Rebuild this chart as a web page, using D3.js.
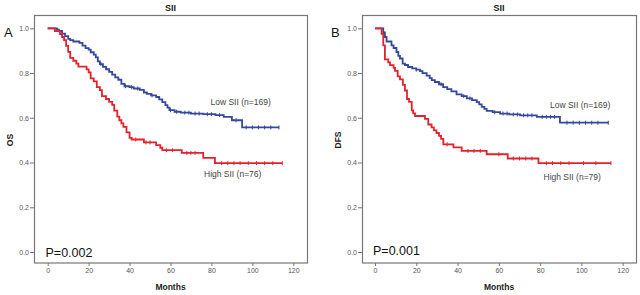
<!DOCTYPE html>
<html>
<head>
    <script src="https://d3js.org/d3.v7.min.js"></script>
    <style>
        body { margin: 0; background: #fff; }
        svg { display: block; font-family: "Liberation Sans", Arial, sans-serif; }
    </style>
</head>
<body>
    <svg id="chart" width="640" height="295"></svg>
    <script>
        // Kaplan-Meier step values: [month, survival]
        const osLow = [
            [0, 1.0], [4.5, 0.994], [5.5, 0.988], [7, 0.976], [8.5, 0.965], [10, 0.953], [11, 0.947],
            [12.5, 0.941], [15.5, 0.935], [17, 0.923], [18.5, 0.911], [20, 0.905], [21, 0.893],
            [22.5, 0.882], [23.5, 0.870], [24.5, 0.852], [25.5, 0.840], [27, 0.828], [28.5, 0.817],
            [30, 0.805], [31.5, 0.793], [33, 0.781], [34.5, 0.770], [36, 0.752], [37.5, 0.741],
            [40, 0.737], [42, 0.731], [45, 0.725], [47, 0.713], [48.5, 0.707], [50.5, 0.700],
            [53, 0.693], [54.5, 0.682], [56, 0.670], [57.5, 0.657], [58.5, 0.645], [59.5, 0.634],
            [62, 0.627], [65, 0.623], [70, 0.619], [76, 0.616], [82, 0.612], [86, 0.604],
            [90, 0.589], [95, 0.557], [113, 0.557]
        ];
        const osHigh = [
            [0, 1.0], [3.5, 0.987], [6, 0.974], [7, 0.961], [8, 0.947], [9, 0.921], [10, 0.895],
            [11, 0.868], [12.5, 0.855], [14, 0.842], [15, 0.829], [19, 0.816], [20, 0.803],
            [21, 0.776], [22.5, 0.763], [24, 0.737], [25.5, 0.724], [26.5, 0.697], [28.5, 0.684],
            [30, 0.671], [31.5, 0.658], [32.5, 0.632], [34, 0.605], [35, 0.589], [36, 0.575],
            [37, 0.559], [38.5, 0.535], [40, 0.510], [41, 0.503], [47, 0.490], [53, 0.478],
            [55, 0.466], [56, 0.455], [65.5, 0.443], [76, 0.421], [81.7, 0.397], [114.6, 0.397]
        ];
        const dfsLow = [
            [0, 1.0], [4, 0.982], [4.8, 0.961], [5.6, 0.941], [8, 0.924], [9, 0.912], [10.4, 0.894],
            [11.3, 0.877], [12.1, 0.865], [13.4, 0.842], [14.5, 0.836], [16, 0.827], [18, 0.821],
            [20, 0.815], [21.8, 0.809], [23, 0.800], [25, 0.788], [26.5, 0.777], [27.5, 0.768],
            [29, 0.760], [31, 0.750], [33, 0.737], [35, 0.728], [37, 0.718], [39.5, 0.705],
            [42, 0.697], [44.5, 0.687], [47, 0.679], [49.3, 0.670], [50.5, 0.660], [51.7, 0.649],
            [53, 0.640], [54.1, 0.631], [57, 0.625], [60.6, 0.619], [65, 0.615], [70.3, 0.611],
            [78.4, 0.604], [89.6, 0.578], [113, 0.578]
        ];
        const dfsHigh = [
            [0, 1.0], [3.2, 0.975], [4.0, 0.924], [4.8, 0.861], [6.4, 0.848], [7.3, 0.835],
            [9.0, 0.823], [9.7, 0.810], [11, 0.785], [12.1, 0.772], [13.5, 0.747], [14.5, 0.722],
            [15.5, 0.684], [16.5, 0.671], [17.8, 0.633], [18.5, 0.620], [19.4, 0.608], [24.2, 0.595],
            [25.8, 0.570], [27.4, 0.557], [28.5, 0.544], [29.8, 0.532], [31, 0.519], [32, 0.506],
            [33.1, 0.481], [38, 0.468], [42, 0.452], [54.1, 0.437], [64.3, 0.418], [79.2, 0.397],
            [114.3, 0.397]
        ];

        // censored observations (months)
        const osLowCens = [26, 38, 41, 44, 51, 60, 63, 67, 69, 72, 74, 78, 80, 84, 92, 97, 100, 103, 106, 109, 113];
        const osHighCens = [43, 48, 50, 58, 61, 68, 70, 72, 85, 88, 91, 94, 98, 102, 106, 110, 114.6];
        const dfsLowCens = [20, 32, 43, 46, 58, 62, 64, 67, 69, 72, 74, 76, 81, 83, 85, 87, 93, 96, 99, 102, 105, 108, 113];
        const dfsHighCens = [35, 45, 48, 51, 60, 67, 70, 73, 76, 83, 86, 90, 94, 101, 107, 114.3];

        const xTicks = [0, 20, 40, 60, 80, 100, 120];
        const yTicks = [0.0, 0.2, 0.4, 0.6, 0.8, 1.0];

        const panels = [
            {
                letter: "A", yLabel: "OS", pValue: "P=0.002",
                frame: {x0: 34, x1: 307}, xRange: [47.7, 293.3],
                low: osLow, high: osHigh, lowCens: osLowCens, highCens: osHighCens,
                lowText: "Low SII (n=169)", highText: "High SII (n=76)",
                lowPos: [210.5, 104.5], highPos: [204, 177], pPos: [45.5, 256.5],
                letterPos: [4, 36.5], yLabelX: 13
            },
            {
                letter: "B", yLabel: "DFS", pValue: "P=0.001",
                frame: {x0: 362, x1: 636}, xRange: [375, 622.7],
                low: dfsLow, high: dfsHigh, lowCens: dfsLowCens, highCens: dfsHighCens,
                lowText: "Low SII (n=169)", highText: "High SII (n=79)",
                lowPos: [550, 107.5], highPos: [543.5, 180], pPos: [373, 254.5],
                letterPos: [331, 36.5], yLabelX: 341
            }
        ];

        const blue = "#34489c";
        const red = "#e2222e";
        const svg = d3.select("#chart");
        const y = d3.scaleLinear().domain([0, 1]).range([252, 28.3]);

        panels.forEach(p => {
            const x = d3.scaleLinear().domain([0, 120]).range(p.xRange);
            const g = svg.append("g");

            // frame
            g.append("rect")
                .attr("x", p.frame.x0 + 0.5).attr("y", 15.5)
                .attr("width", p.frame.x1 - p.frame.x0).attr("height", 247.5)
                .attr("fill", "none").attr("stroke", "#777").attr("stroke-width", 1.2);

            // axes
            const xAxis = g.append("g")
                .attr("transform", "translate(0,263)")
                .call(d3.axisBottom(x).tickValues(xTicks).tickSize(3).tickPadding(2).tickFormat(d3.format("d")));
            xAxis.select(".domain").remove();
            const yAxis = g.append("g")
                .attr("transform", `translate(${p.frame.x0},0)`)
                .call(d3.axisLeft(y).tickValues(yTicks).tickSize(4).tickPadding(1).tickFormat(d3.format(".1f")));
            yAxis.select(".domain").remove();
            g.selectAll(".tick line").attr("stroke", "#777");
            g.selectAll(".tick text").attr("fill", "#555").style("font-size", "7px")
                .style("font-family", "'Liberation Sans', Arial, sans-serif");

            // curves
            const line = d3.line()
                .x(d => x(d[0])).y(d => y(d[1]))
                .curve(d3.curveStepAfter);

            const stepAt = (data, t) => {
                let s = data[0][1];
                data.forEach(d => { if (d[0] <= t) s = d[1]; });
                return s;
            };

            [[p.low, p.lowCens, blue], [p.high, p.highCens, red]].forEach(([data, cens, col]) => {
                g.append("path")
                    .datum(data)
                    .attr("fill", "none")
                    .attr("stroke", col)
                    .attr("stroke-width", 1.8)
                    .attr("d", line);
                g.selectAll(null)
                    .data(cens)
                    .join("line")
                    .attr("x1", d => x(d)).attr("x2", d => x(d))
                    .attr("y1", d => y(stepAt(data, d)) - 2)
                    .attr("y2", d => y(stepAt(data, d)) + 2)
                    .attr("stroke", col).attr("stroke-width", 1);
            });

            // texts
            const cx = (p.frame.x0 + p.frame.x1) / 2;
            g.append("text").attr("x", cx).attr("y", 10.5)
                .attr("text-anchor", "middle").style("font-size", "9px").style("font-weight", "bold")
                .attr("fill", "#222").text("SII");
            g.append("text").attr("x", cx).attr("y", 290)
                .attr("text-anchor", "middle").style("font-size", "8.5px").style("font-weight", "bold")
                .attr("fill", "#222").text("Months");
            g.append("text")
                .attr("transform", `translate(${p.yLabelX},140) rotate(-90)`)
                .attr("text-anchor", "middle").style("font-size", "8.5px").style("font-weight", "bold")
                .attr("fill", "#222").text(p.yLabel);
            g.append("text").attr("x", p.letterPos[0]).attr("y", p.letterPos[1])
                .style("font-size", "13px").attr("fill", "#111").text(p.letter);
            g.append("text").attr("x", p.pPos[0]).attr("y", p.pPos[1])
                .style("font-size", "12.5px").attr("fill", "#111").text(p.pValue);
            g.append("text").attr("x", p.lowPos[0]).attr("y", p.lowPos[1])
                .style("font-size", "8.5px").attr("fill", "#444").text(p.lowText);
            g.append("text").attr("x", p.highPos[0]).attr("y", p.highPos[1])
                .style("font-size", "8.5px").attr("fill", "#444").text(p.highText);
        });
    </script>
</body>
</html>
